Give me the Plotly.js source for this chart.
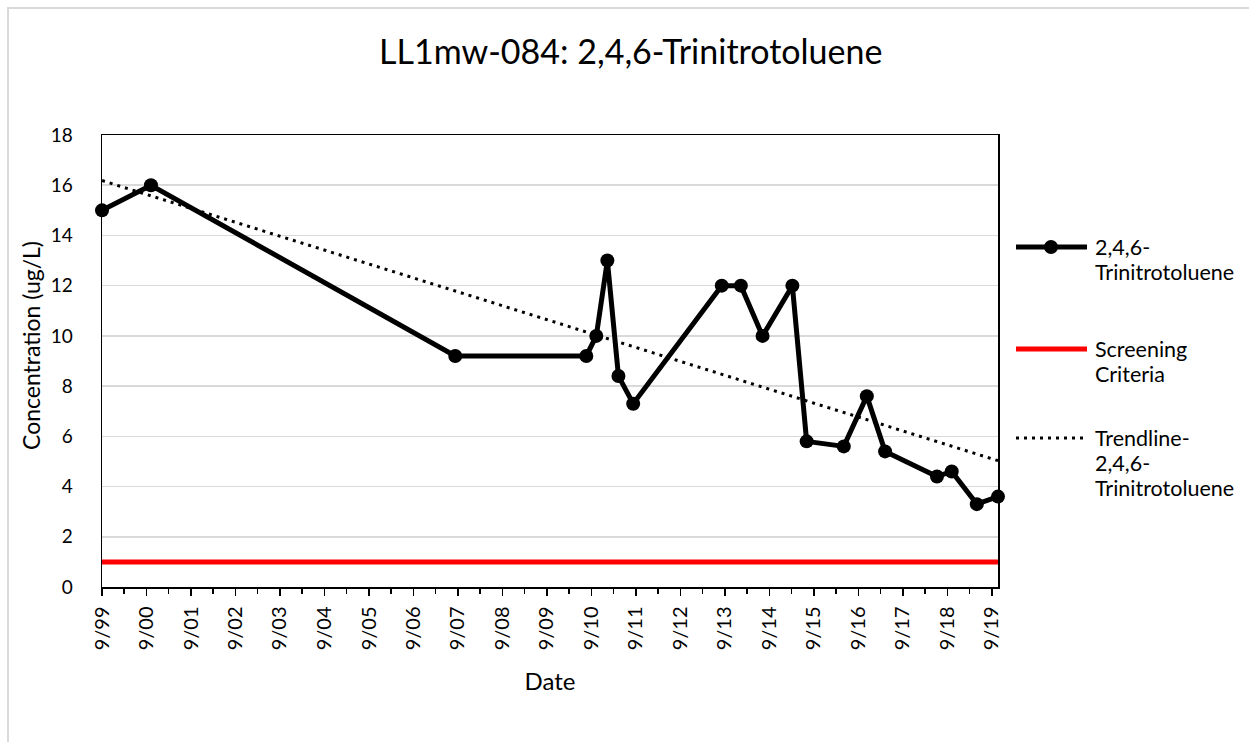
<!DOCTYPE html>
<html>
<head>
<meta charset="utf-8">
<script src="https://cdn.plot.ly/plotly-3.0.1.min.js"></script>
<style>
  html, body { margin: 0; padding: 0; background: #ffffff; overflow: hidden; }
  #frame { position: absolute; left: 7px; top: 7px; width: 2000px; height: 2000px;
           border-left: 2px solid #d9d9d9; border-top: 2px solid #d9d9d9; }
  #chart { position: absolute; left: 0; top: 0; width: 1249px; height: 742px; }
</style>
</head>
<body>
<div id="frame"></div>
<div id="chart"></div>
<script>
// ---- data ----
const sampleDates = [
  '1999-09-01', '2000-10-07', '2007-08-10', '2010-07-21', '2010-10-11',
  '2011-01-10', '2011-04-11', '2011-08-10', '2013-08-06', '2014-01-10',
  '2014-07-07', '2015-03-09', '2015-07-04', '2016-05-04', '2016-11-09',
  '2017-04-08', '2018-06-08', '2018-10-07', '2019-05-01', '2019-10-22'
];
const tntValues = [
  15, 16, 9.2, 9.2, 10,
  13, 8.4, 7.3, 12, 12,
  10, 12, 5.8, 5.6, 7.6,
  5.4, 4.4, 4.6, 3.3, 3.6
];
const screeningValue = 1;
const tickDates = ['1999-09-01','2000-09-01','2001-09-01','2002-09-01','2003-09-01','2004-09-01',
  '2005-09-01','2006-09-01','2007-09-01','2008-09-01','2009-09-01','2010-09-01','2011-09-01',
  '2012-09-01','2013-09-01','2014-09-01','2015-09-01','2016-09-01','2017-09-01','2018-09-01','2019-09-01'];
const tickLabels = ['9/99','9/00','9/01','9/02','9/03','9/04','9/05','9/06','9/07','9/08','9/09',
  '9/10','9/11','9/12','9/13','9/14','9/15','9/16','9/17','9/18','9/19'];
const seriesName = '2,4,6-Trinitrotoluene';
const screeningName = 'Screening Criteria';
const trendName = 'Trendline-2,4,6-Trinitrotoluene';
const legendLines = [
  ['2,4,6-', 'Trinitrotoluene'],
  ['Screening', 'Criteria'],
  ['Trendline-', '2,4,6-', 'Trinitrotoluene']
];

// ---- linear least-squares trendline (as Excel) ----
const xs = sampleDates.map(d => new Date(d + 'T00:00:00Z').getTime());
const n = xs.length;
const mx = xs.reduce((a, b) => a + b, 0) / n;
const my = tntValues.reduce((a, b) => a + b, 0) / n;
let sxy = 0, sxx = 0;
for (let i = 0; i < n; i++) { sxy += (xs[i] - mx) * (tntValues[i] - my); sxx += (xs[i] - mx) ** 2; }
const slope = sxy / sxx;
const icpt = my - slope * mx;
const firstD = sampleDates[0], lastD = sampleDates[n - 1];
const trendY = [icpt + slope * xs[0], icpt + slope * xs[n - 1]];

const FONT = 'Lato, "Open Sans", sans-serif';

const traces = [
  {
    x: [firstD, lastD], y: [screeningValue, screeningValue],
    type: 'scatter', mode: 'lines', name: screeningName,
    line: { color: '#ff0000', width: 5 }, hoverinfo: 'skip'
  },
  {
    x: [firstD, lastD], y: trendY,
    type: 'scatter', mode: 'lines', name: trendName,
    line: { color: '#000000', width: 3, dash: '3px,5px' }, hoverinfo: 'skip'
  },
  {
    x: sampleDates, y: tntValues,
    type: 'scatter', mode: 'lines+markers', name: seriesName,
    line: { color: '#000000', width: 5 },
    marker: { color: '#000000', size: 14, symbol: 'circle' },
    cliponaxis: false
  }
];

// custom legend (paper coords)
const L = 102, W = 896, B = 587, H = 452;
const px = v => (v - L) / W;
const py = v => (B - v) / H;
const legendY = [247, 349, 438];
const shapes = [
  { type: 'line', xref: 'paper', yref: 'paper', x0: px(1016), x1: px(1087), y0: py(legendY[0]), y1: py(legendY[0]),
    line: { color: '#000', width: 5 } },
  { type: 'circle', xref: 'paper', yref: 'paper', x0: px(1044), x1: px(1058), y0: py(legendY[0] - 7), y1: py(legendY[0] + 7),
    fillcolor: '#000', line: { color: '#000', width: 0 } },
  { type: 'line', xref: 'paper', yref: 'paper', x0: px(1016), x1: px(1087), y0: py(legendY[1]), y1: py(legendY[1]),
    line: { color: '#ff0000', width: 5 } },
  { type: 'line', xref: 'paper', yref: 'paper', x0: px(1016), x1: px(1087), y0: py(legendY[2]), y1: py(legendY[2]),
    line: { color: '#000', width: 3, dash: '3px,5px' } }
];
const annotations = [];
legendLines.forEach((lines, i) => {
  lines.forEach((t, j) => {
    annotations.push({
      xref: 'paper', yref: 'paper', x: px(1093), y: py(legendY[i] + 25 * j),
      xanchor: 'left', yanchor: 'middle', text: t, showarrow: false, align: 'left',
      font: { family: FONT, size: 21.5, color: '#000' }
    });
  });
});
// y-axis title as annotation for exact placement
annotations.push({
  xref: 'paper', yref: 'paper', x: px(31), y: py(346), xanchor: 'center', yanchor: 'middle',
  text: 'Concentration (ug/L)', textangle: -90, showarrow: false,
  font: { family: FONT, size: 23, color: '#000' }
});

const layout = {
  width: 1249, height: 742,
  margin: { l: 102, r: 251, t: 135, b: 155 },
  paper_bgcolor: 'rgba(0,0,0,0)', plot_bgcolor: '#ffffff',
  showlegend: false,
  font: { family: FONT, size: 18.5, color: '#000' },
  title: { text: 'LL1mw-084: 2,4,6-Trinitrotoluene', x: 0.505, xref: 'container', xanchor: 'center',
           y: 1 - 52 / 742, yanchor: 'middle', yref: 'container',
           font: { family: FONT, size: 34, color: '#000' } },
  xaxis: {
    type: 'date', range: [firstD, lastD], fixedrange: true,
    tickmode: 'array', tickvals: tickDates, ticktext: tickLabels, tickangle: -90,
    ticks: 'outside', ticklen: 7, tickwidth: 1.5, tickcolor: '#000',
    ticklabelstandoff: 3,
    showgrid: false, zeroline: false,
    showline: true, linecolor: '#000', linewidth: 1.5, mirror: true,
    tickfont: { family: FONT, size: 20, color: '#000' },
    minor: { tick0: '2000-03-01', dtick: 'M12', ticks: 'outside', ticklen: 5, tickwidth: 1.5,
             tickcolor: '#000', showgrid: false },
    title: { text: 'Date', font: { family: FONT, size: 24, color: '#000' }, standoff: 24 }
  },
  yaxis: {
    range: [0, 18], dtick: 2, tick0: 0, fixedrange: true,
    ticks: '', showgrid: true, gridcolor: '#d9d9d9', gridwidth: 1.5, zeroline: false,
    showline: true, linecolor: '#000', linewidth: 1.5, mirror: true,
    ticklabelstandoff: 24,
    tickfont: { family: FONT, size: 19, color: '#000' }
  },
  shapes: shapes,
  annotations: annotations
};

Plotly.newPlot('chart', traces, layout, { displayModeBar: false, staticPlot: true });
</script>
</body>
</html>
